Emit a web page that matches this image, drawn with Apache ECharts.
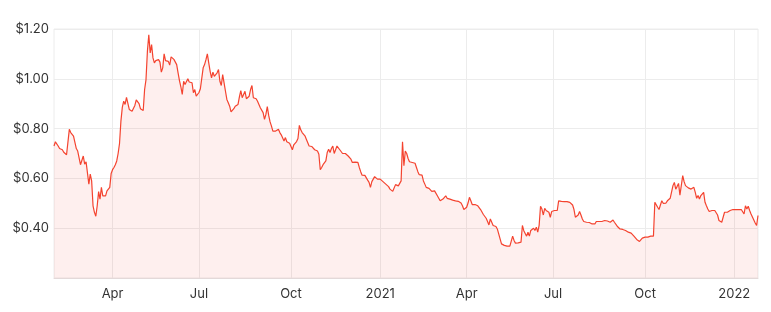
<!DOCTYPE html>
<html>
<head>
<meta charset="utf-8">
<script src="https://cdn.jsdelivr.net/npm/echarts@6/dist/echarts.min.js"></script>
<style>
html,body{margin:0;padding:0;background:#fff;}
#chart{width:771px;height:312px;}
</style>
</head>
<body>
<div id="chart"></div>
<script>
// Trading-day calendar (ASX), first and last session shown
const startDate = '2020-02-03';
const endDate = '2022-01-28';
const holidays = ['2020-04-10','2020-04-13','2020-06-08','2020-12-25','2020-12-28',
  '2021-01-01','2021-01-26','2021-04-02','2021-04-05','2021-06-14','2021-12-27','2021-12-28',
  '2022-01-03','2022-01-26'];
const monthNames = ['Jan','Feb','Mar','Apr','May','Jun','Jul','Aug','Sep','Oct','Nov','Dec'];
const yTicks = [0.4, 0.6, 0.8, 1.0, 1.2];

// Closing prices, one per trading day
const prices = [
0.73,0.747,0.747,0.73,0.72,0.715,0.715,0.705,0.698,0.695,
0.70,0.797,0.784,0.79,0.77,0.745,0.72,0.71,0.71,0.655,
0.65,0.69,0.657,0.667,0.665,0.577,0.617,0.59,0.49,0.464,
0.448,0.49,0.547,0.517,0.564,0.53,0.537,0.53,0.55,0.548,
0.564,0.62,0.635,0.644,0.655,0.67,0.70,0.74,0.83,0.885,
0.91,0.897,0.925,0.92,0.877,0.877,0.87,0.877,0.893,0.915,
0.908,0.90,0.88,0.877,0.873,0.957,0.997,1.11,1.177,1.104,
1.137,1.084,1.064,1.073,1.067,1.077,1.067,1.027,1.044,1.10,
1.073,1.07,1.07,1.055,1.088,1.084,1.078,1.073,1.057,1.024,
0.993,0.968,0.937,0.99,0.977,0.984,1.00,0.987,0.984,0.984,
0.944,0.957,0.93,0.93,0.945,0.96,0.964,1.044,1.057,1.077,
1.10,1.064,1.03,1.004,1.027,1.01,1.017,1.024,1.037,0.99,
0.973,1.017,0.984,0.95,0.917,0.904,0.89,0.867,0.875,0.88,
0.89,0.89,0.897,0.927,0.953,0.924,0.937,0.95,0.92,0.917,
0.93,0.957,0.973,0.924,0.924,0.92,0.91,0.897,0.884,0.877,
0.864,0.837,0.857,0.888,0.853,0.827,0.81,0.79,0.788,0.79,
0.788,0.797,0.784,0.775,0.771,0.75,0.764,0.747,0.75,0.741,
0.735,0.715,0.735,0.741,0.748,0.76,0.813,0.795,0.784,0.778,
0.771,0.757,0.75,0.73,0.735,0.728,0.721,0.715,0.71,0.71,
0.697,0.635,0.644,0.655,0.66,0.67,0.704,0.717,0.704,0.72,
0.73,0.70,0.704,0.73,0.724,0.715,0.708,0.70,0.697,0.70,
0.704,0.69,0.684,0.677,0.664,0.664,0.665,0.667,0.664,0.644,
0.627,0.613,0.613,0.612,0.61,0.593,0.584,0.564,0.587,0.597,
0.607,0.60,0.597,0.597,0.597,0.593,0.587,0.581,0.577,0.573,
0.567,0.557,0.55,0.548,0.55,0.575,0.567,0.57,0.57,0.59,
0.747,0.651,0.71,0.70,0.68,0.667,0.664,0.664,0.664,0.661,
0.644,0.627,0.615,0.608,0.613,0.59,0.577,0.564,0.568,0.56,
0.564,0.548,0.55,0.55,0.547,0.53,0.52,0.51,0.517,0.517,
0.517,0.53,0.52,0.517,0.517,0.515,0.513,0.51,0.51,0.51,
0.508,0.507,0.501,0.49,0.475,0.467,0.484,0.501,0.524,0.51,
0.495,0.495,0.495,0.493,0.49,0.484,0.475,0.465,0.455,0.447,
0.44,0.427,0.413,0.437,0.424,0.411,0.404,0.407,0.397,0.377,
0.357,0.337,0.331,0.331,0.328,0.328,0.328,0.328,0.333,0.368,
0.351,0.34,0.337,0.341,0.335,0.344,0.411,0.39,0.384,0.368,
0.384,0.368,0.391,0.384,0.40,0.391,0.404,0.384,0.411,0.488,
0.477,0.453,0.48,0.471,0.467,0.464,0.444,0.467,0.471,0.471,
0.471,0.471,0.51,0.508,0.508,0.508,0.507,0.507,0.507,0.506,
0.504,0.501,0.493,0.475,0.444,0.451,0.453,0.467,0.453,0.437,
0.427,0.427,0.424,0.424,0.423,0.421,0.417,0.413,0.417,0.427,
0.427,0.427,0.427,0.427,0.427,0.431,0.427,0.429,0.431,0.424,
0.431,0.433,0.424,0.417,0.408,0.40,0.397,0.396,0.395,0.393,
0.391,0.387,0.384,0.384,0.38,0.377,0.368,0.36,0.355,0.351,
0.347,0.355,0.36,0.361,0.364,0.361,0.364,0.367,0.368,0.364,
0.368,0.504,0.501,0.484,0.475,0.493,0.51,0.50,0.497,0.501,
0.51,0.517,0.52,0.524,0.571,0.584,0.557,0.568,0.58,0.533,
0.531,0.611,0.587,0.571,0.564,0.562,0.56,0.557,0.551,0.564,
0.544,0.52,0.531,0.517,0.531,0.537,0.544,0.504,0.49,0.477,
0.467,0.47,0.471,0.467,0.471,0.464,0.453,0.431,0.424,0.424,
0.427,0.464,0.457,0.464,0.467,0.471,0.473,0.475,0.477,0.475,
0.477,0.475,0.475,0.475,0.471,0.457,0.49,0.477,0.488,0.471,
0.457,0.445,0.437,0.421,0.411,0.451
];

// Build trading-day category list
const dates = [];
(function(){
  const hol = new Set(holidays);
  const d = new Date(startDate + 'T00:00:00Z');
  const end = new Date(endDate + 'T00:00:00Z');
  while (d <= end) {
    const wd = d.getUTCDay();
    const s = d.toISOString().slice(0,10);
    if (wd !== 0 && wd !== 6 && !hol.has(s)) dates.push(s);
    d.setUTCDate(d.getUTCDate() + 1);
  }
})();

function isQuarterStart(idx) {
  if (idx <= 0) return false;
  const m = +dates[idx].slice(5,7);
  const pm = +dates[idx-1].slice(5,7);
  return m !== pm && (m === 1 || m === 4 || m === 7 || m === 10);
}

const chart = echarts.init(document.getElementById('chart'), null, {renderer:'canvas'});
const FONT = 'Inter, "Open Sans", sans-serif';
chart.setOption({
  animation: false,
  backgroundColor: '#fff',
  grid: {left: 54, right: 13, top: 29, bottom: 34, containLabel: false,
         show: true, borderColor: '#ececec', borderWidth: 1},
  xAxis: {
    type: 'category',
    data: dates,
    boundaryGap: false,
    axisLine: {show: true, lineStyle: {color: '#e3d9d9', width: 1}},
    axisTick: {show: false},
    axisLabel: {
      interval: function(idx){ return isQuarterStart(idx); },
      formatter: function(v){
        const m = +v.slice(5,7);
        return m === 1 ? v.slice(0,4) : monthNames[m-1];
      },
      color: '#333', fontSize: 13, fontFamily: FONT, margin: 10
    },
    splitLine: {show: true, interval: function(idx){ return isQuarterStart(idx); },
                lineStyle: {color: '#ececec', width: 1}}
  },
  yAxis: {
    type: 'value',
    min: 0.2, max: 1.2, interval: 0.2,
    axisLine: {show: false},
    axisTick: {show: false},
    axisLabel: {
      color: '#333', fontSize: 13, fontFamily: FONT, margin: 5,
      formatter: function(v){
        const r = Math.round(v*100)/100;
        return yTicks.some(t => Math.abs(t - r) < 1e-6) ? '$' + r.toFixed(2) : '';
      }
    },
    splitLine: {show: true, lineStyle: {color: '#ececec', width: 1}}
  },
  series: [{
    type: 'line',
    data: prices,
    showSymbol: false,
    symbol: 'none',
    lineStyle: {color: '#f4432f', width: 1.2},
    areaStyle: {color: 'rgba(244,67,54,0.12)'},
    emphasis: {disabled: true}
  }]
});
</script>
</body>
</html>
